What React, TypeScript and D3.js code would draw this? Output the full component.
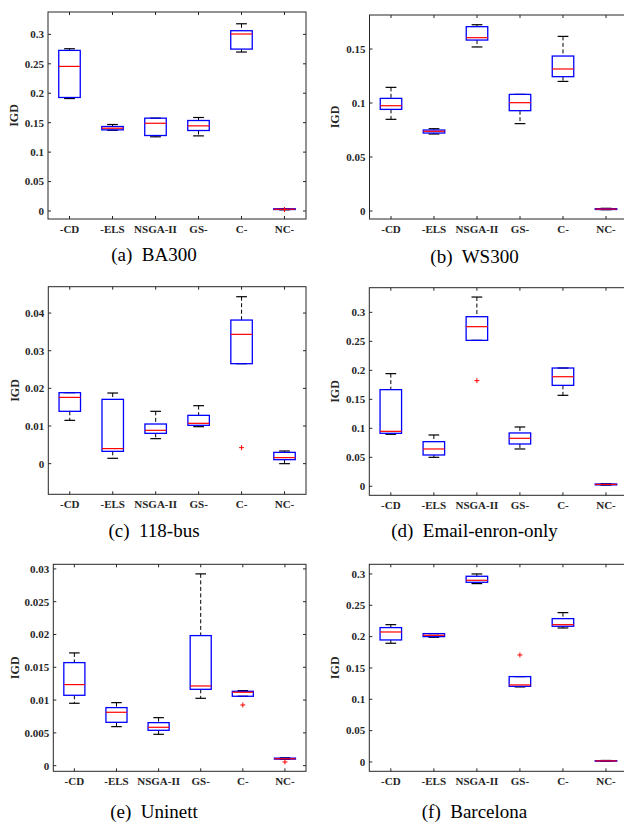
import React from 'react';
import * as d3 from 'd3';

const methods = ['-CD', '-ELS', 'NSGA-II', 'GS-', 'C-', 'NC-'];

// each row: [lower whisker, q1, median, q3, upper whisker]
const ba300 = [
  [0.191, 0.1928, 0.2456, 0.2728, 0.2756],
  [0.137, 0.1378, 0.1406, 0.1435, 0.1469],
  [0.126, 0.1282, 0.149, 0.1577, 0.1577],
  [0.1276, 0.1367, 0.1446, 0.1537, 0.1588],
  [0.27, 0.275, 0.3006, 0.3062, 0.318],
  [0.002, 0.0025, 0.003, 0.0038, 0.004],
];
const ba300Outliers = [[5, 0.0025]];
const ba300Ticks = [0, 0.05, 0.1, 0.15, 0.2, 0.25, 0.3];

const ws300 = [
  [0.0849, 0.0941, 0.0975, 0.1043, 0.1145],
  [0.0713, 0.0722, 0.0738, 0.075, 0.0762],
  [0.1519, 0.1583, 0.1605, 0.1707, 0.1725],
  [0.0809, 0.0929, 0.1003, 0.108, 0.108],
  [0.12, 0.1244, 0.1315, 0.1435, 0.1617],
  [0.0012, 0.0014, 0.0018, 0.0022, 0.0025],
];
const ws300Outliers = [];
const ws300Ticks = [0, 0.05, 0.1, 0.15];

const bus118 = [
  [0.0115, 0.0139, 0.0176, 0.01885, 0.01885],
  [0.00142, 0.00327, 0.004, 0.01708, 0.01876],
  [0.00664, 0.00805, 0.00885, 0.01053, 0.0139],
  [0.00982, 0.01018, 0.01071, 0.01283, 0.0154],
  [0.02655, 0.02655, 0.03434, 0.03814, 0.04434],
  [0, 0.00106, 0.0016, 0.003, 0.00336],
];
const bus118Outliers = [[4, 0.00425]];
const bus118Ticks = [0, 0.01, 0.02, 0.03, 0.04];

const enron = [
  [0.0897, 0.0914, 0.0948, 0.1667, 0.1943],
  [0.05, 0.054, 0.0644, 0.077, 0.0885],
  [0.2517, 0.2517, 0.2753, 0.2925, 0.3264],
  [0.0644, 0.073, 0.0828, 0.092, 0.1023],
  [0.1569, 0.1741, 0.189, 0.204, 0.204],
  [0.002, 0.0025, 0.0032, 0.004, 0.0045],
];
const enronOutliers = [[2, 0.1822]];
const enronTicks = [0, 0.05, 0.1, 0.15, 0.2, 0.25, 0.3];

const uninett = [
  [0.00951, 0.01073, 0.01236, 0.01571, 0.01719],
  [0.00595, 0.00661, 0.00814, 0.00885, 0.00961],
  [0.00478, 0.00539, 0.00585, 0.00656, 0.00732],
  [0.01027, 0.01164, 0.01215, 0.01983, 0.02924],
  [0.01058, 0.01058, 0.01119, 0.01134, 0.01144],
  [0.00095, 0.001, 0.00105, 0.00115, 0.0012],
];
const uninettOutliers = [[4, 0.00925], [5, 0.00056]];
const uninettTicks = [0, 0.005, 0.01, 0.015, 0.02, 0.025, 0.03];

const barcelona = [
  [0.1894, 0.1947, 0.2074, 0.2144, 0.2191],
  [0.1989, 0.2, 0.2021, 0.2048, 0.2048],
  [0.2846, 0.2867, 0.2899, 0.2963, 0.3],
  [0.1197, 0.1207, 0.1229, 0.1362, 0.1362],
  [0.2138, 0.2165, 0.2191, 0.2287, 0.2383],
  [0.0012, 0.0014, 0.0017, 0.0021, 0.0024],
];
const barcelonaOutliers = [[3, 0.1707]];
const barcelonaTicks = [0, 0.05, 0.1, 0.15, 0.2, 0.25, 0.3];

const panels = [
  { tag: '(a)', name: 'BA300', stats: ba300, outliers: ba300Outliers, ticks: ba300Ticks,
    domain: [-0.0136, 0.338], left: 48, right: 306, top: 12, bottom: 219, labelX: 14, capX: 154, capY: 261 },
  { tag: '(b)', name: 'WS300', stats: ws300, outliers: ws300Outliers, ticks: ws300Ticks,
    domain: [-0.0074, 0.1815], left: 369.5, right: 627.5, top: 15, bottom: 219, labelX: 335, capX: 474.5, capY: 263 },
  { tag: '(c)', name: '118-bus', stats: bus118, outliers: bus118Outliers, ticks: bus118Ticks,
    domain: [-0.00814, 0.047], left: 48.3, right: 306, top: 286.7, bottom: 494.3, labelX: 14.5, capX: 154, capY: 537 },
  { tag: '(d)', name: 'Email-enron-only', stats: enron, outliers: enronOutliers, ticks: enronTicks,
    domain: [-0.0155, 0.3425], left: 369.3, right: 627.5, top: 287.7, bottom: 495.3, labelX: 335, capX: 474.5, capY: 537 },
  { tag: '(e)', name: 'Uninett', stats: uninett, outliers: uninettOutliers, ticks: uninettTicks,
    domain: [-0.00086, 0.0307], left: 53.3, right: 306, top: 564.3, bottom: 771.3, labelX: 14.5, capX: 154, capY: 818 },
  { tag: '(f)', name: 'Barcelona', stats: barcelona, outliers: barcelonaOutliers, ticks: barcelonaTicks,
    domain: [-0.0149, 0.3154], left: 369.3, right: 627.5, top: 564.3, bottom: 771.3, labelX: 335, capX: 474.5, capY: 818 },
];

const axisColor = '#262626';
const fontFamily = '"Liberation Serif", "Times New Roman", serif';
const fmt = d3.format('~g');

const BoxPanel = ({ p }) => {
  const x = d3.scaleLinear().domain([0.5, methods.length + 0.5]).range([p.left, p.right]);
  const y = d3.scaleLinear().domain(p.domain).range([p.bottom, p.top]);
  const unit = x(2) - x(1);
  const boxW = unit * 0.5;
  const capW = unit * 0.25;
  const tickLen = 3;

  return (
    <g>
      {/* boxes */}
      {p.stats.map((s, i) => {
        const cx = x(i + 1);
        const [lo, q1, med, q3, hi] = s;
        return (
          <g key={i}>
            <line x1={cx} x2={cx} y1={y(hi)} y2={y(q3)} stroke="#000" strokeWidth={1} strokeDasharray="4,2.5" />
            <line x1={cx} x2={cx} y1={y(q1)} y2={y(lo)} stroke="#000" strokeWidth={1} strokeDasharray="4,2.5" />
            <line x1={cx - capW / 2} x2={cx + capW / 2} y1={y(hi)} y2={y(hi)} stroke="#000" strokeWidth={1.2} />
            <line x1={cx - capW / 2} x2={cx + capW / 2} y1={y(lo)} y2={y(lo)} stroke="#000" strokeWidth={1.2} />
            <rect x={cx - boxW / 2} y={y(q3)} width={boxW} height={Math.max(0.5, y(q1) - y(q3))}
              fill="none" stroke="#0000ff" strokeWidth={1.3} />
            <line x1={cx - boxW / 2} x2={cx + boxW / 2} y1={y(med)} y2={y(med)} stroke="#ff0000" strokeWidth={1.2} />
          </g>
        );
      })}
      {p.outliers.map(([i, v], k) => {
        const cx = x(i + 1);
        const cy = y(v);
        return (
          <g key={'o' + k} stroke="#ff0000" strokeWidth={1}>
            <line x1={cx - 2.5} x2={cx + 2.5} y1={cy} y2={cy} />
            <line x1={cx} x2={cx} y1={cy - 2.5} y2={cy + 2.5} />
          </g>
        );
      })}

      {/* axes frame and ticks */}
      <rect x={p.left} y={p.top} width={p.right - p.left} height={p.bottom - p.top}
        fill="none" stroke={axisColor} strokeWidth={1} />
      {methods.map((m, i) => (
        <g key={m}>
          <line x1={x(i + 1)} x2={x(i + 1)} y1={p.bottom} y2={p.bottom - tickLen} stroke={axisColor} />
          <line x1={x(i + 1)} x2={x(i + 1)} y1={p.top} y2={p.top + tickLen} stroke={axisColor} />
          <text x={x(i + 1)} y={p.bottom + 14} textAnchor="middle" fontFamily={fontFamily}
            fontWeight="bold" fontSize={11} fill={axisColor}>{m}</text>
        </g>
      ))}
      {p.ticks.map(t => (
        <g key={t}>
          <line x1={p.left} x2={p.left + tickLen} y1={y(t)} y2={y(t)} stroke={axisColor} />
          <line x1={p.right} x2={p.right - tickLen} y1={y(t)} y2={y(t)} stroke={axisColor} />
          <text x={p.left - 4} y={y(t)} dy="0.35em" textAnchor="end" fontFamily={fontFamily}
            fontWeight="bold" fontSize={11} fill={axisColor}>{fmt(t)}</text>
        </g>
      ))}
      <text transform={`translate(${p.labelX},${(p.top + p.bottom) / 2}) rotate(-90)`} dy="0.35em"
        textAnchor="middle" fontFamily={fontFamily} fontWeight="bold" fontSize={12} fill={axisColor}>IGD</text>

      {/* caption */}
      <text x={p.capX} y={p.capY} textAnchor="middle" fontFamily={fontFamily} fontSize={19}
        fill="#000" style={{ whiteSpace: 'pre' }}>{`${p.tag}  ${p.name}`}</text>
    </g>
  );
};

export default function App() {
  return (
    <svg width={624} height={825} style={{ position: 'absolute', left: 0, top: 0, background: '#fff' }}>
      <rect width={624} height={825} fill="#fff" />
      {panels.map(p => <BoxPanel key={p.tag} p={p} />)}
    </svg>
  );
}
